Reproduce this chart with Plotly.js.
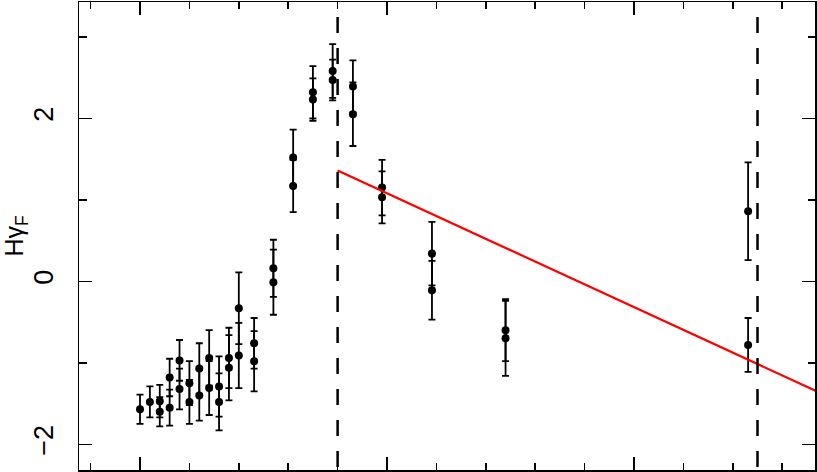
<!DOCTYPE html>
<html>
<head>
<meta charset="utf-8">
<script src="https://cdn.plot.ly/plotly-3.0.1.min.js"></script>
<style>html,body{margin:0;padding:0;background:#fff;}#chart{width:817px;height:472px;}</style>
</head>
<body>
<div id="chart"></div>
<script>
// first measurement of each pair
var xA = [0, 0.2, 0.4, 0.6, 0.8, 1.0, 1.2, 1.4, 1.6, 1.8, 2.0, 2.31, 2.7, 3.1, 3.5, 3.9, 4.31, 4.9, 5.91, 7.4, 12.31];
var yA = [-1.57, -1.48, -1.47, -1.18, -0.97, -1.25, -1.07, -0.94, -1.29, -0.94, -0.33, -0.76, 0.16, 1.52, 2.32, 2.58, 2.39, 1.15, 0.34, -0.60, 0.86];
var eA = [0.18, 0.19, 0.20, 0.23, 0.25, 0.27, 0.31, 0.34, 0.37, 0.37, 0.44, 0.31, 0.35, 0.34, 0.32, 0.33, 0.32, 0.34, 0.39, 0.38, 0.60];
// second measurement of each pair
var xB = [0.4, 0.6, 0.8, 1.0, 1.2, 1.4, 1.6, 1.8, 2.0, 2.31, 2.7, 3.1, 3.5, 3.9, 4.31, 4.9, 5.91, 7.4, 12.31];
var yB = [-1.60, -1.55, -1.32, -1.48, -1.40, -1.31, -1.48, -1.06, -0.91, -0.98, -0.01, 1.17, 2.23, 2.47, 2.05, 1.03, -0.11, -0.70, -0.78];
var eB = [0.18, 0.22, 0.25, 0.27, 0.31, 0.33, 0.35, 0.40, 0.40, 0.37, 0.40, 0.32, 0.26, 0.25, 0.39, 0.32, 0.36, 0.46, 0.33];
// fitted trend line
var fitX = [4, 13.7];
var fitY = [1.36, -1.35];
// vertical dashed markers
var vLines = [4, 12.5];
// axis ticks
var yTickVals = [-2, 0, 2];
var yTickText = ['\u22122', '0', '2'];
var xTickVals = [0, 5, 10];

var errStyle = {type: 'data', visible: true, color: '#000', thickness: 1.8, width: 3.5};
var mk = {color: '#000', size: 8};

var traces = [
  {x: xA, y: yA, type: 'scatter', mode: 'markers', marker: mk,
   error_y: Object.assign({array: eA}, errStyle), showlegend: false, cliponaxis: true},
  {x: xB, y: yB, type: 'scatter', mode: 'markers', marker: mk,
   error_y: Object.assign({array: eB}, errStyle), showlegend: false, cliponaxis: true},
  {x: fitX, y: fitY, type: 'scatter', mode: 'lines', line: {color: '#ff0000', width: 2.2},
   showlegend: false, cliponaxis: true}
];

var shapes = vLines.map(function (v) {
  return {type: 'line', xref: 'x', yref: 'y', x0: v, x1: v, y0: 3.243, y1: -2.315,
          line: {color: '#000', width: 2.5, dash: '16px,15px'}};
});

var font = {family: 'Liberation Sans, Arial, sans-serif', color: '#000'};

var layout = {
  width: 817, height: 472,
  margin: {l: 79, r: 2, t: 2, b: 2, pad: 0},
  paper_bgcolor: '#fff', plot_bgcolor: '#fff',
  showlegend: false,
  shapes: shapes,
  xaxis: {
    range: [-1.235, 13.664], showgrid: false, zeroline: false,
    showline: true, linecolor: '#000', linewidth: 1.5, mirror: 'allticks',
    ticks: 'inside', ticklen: 13, tickwidth: 1.5, tickcolor: '#000',
    tickmode: 'array', tickvals: xTickVals, showticklabels: false,
    minor: {dtick: 1, tick0: 0, ticks: 'inside', ticklen: 7, tickwidth: 1.5, tickcolor: '#000', showgrid: false}
  },
  yaxis: {
    range: [-2.315, 3.427], showgrid: false, zeroline: false,
    showline: true, linecolor: '#000', linewidth: 1.5, mirror: 'allticks',
    ticks: 'inside', ticklen: 13, tickwidth: 1.5, tickcolor: '#000',
    tickmode: 'array', tickvals: yTickVals, ticktext: yTickText,
    tickangle: -90, tickfont: Object.assign({size: 27}, font),
    ticklabelstandoff: 14,
    minor: {dtick: 1, tick0: 0, ticks: 'inside', ticklen: 7.5, tickwidth: 1.5, tickcolor: '#000', showgrid: false},
    title: {text: 'H\u03b3<sub>F</sub>', font: Object.assign({size: 25}, font), standoff: 12}
  }
};

Plotly.newPlot('chart', traces, layout, {displayModeBar: false, staticPlot: true});
</script>
</body>
</html>
